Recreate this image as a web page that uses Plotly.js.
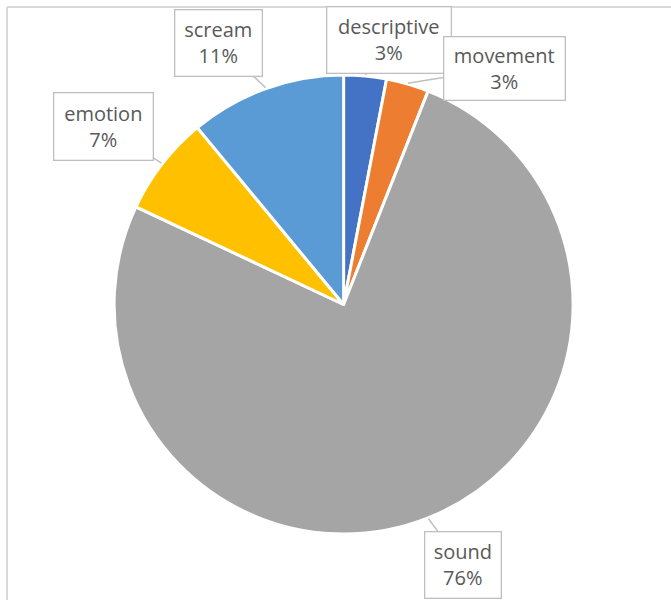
<!DOCTYPE html>
<html>
<head>
<meta charset="utf-8">
<script src="https://cdn.plot.ly/plotly-3.0.1.min.js"></script>
<style>
  html, body { margin: 0; padding: 0; background: #ffffff; }
  #chart { width: 671px; height: 600px; }
</style>
</head>
<body>
<div id="chart"></div>
<script>
// Share of each category (percent)
const categories = ['descriptive', 'movement', 'sound', 'emotion', 'scream'];
const values = [3, 3, 76, 7, 11];
const colors = ['#4472C4', '#ED7D31', '#A5A5A5', '#FFC000', '#5B9BD5'];

// Callout box centres (pixels) and box sizes for each label
const boxCenters = [[389, 40], [504, 68], [103, 126], [218, 43], [463, 565]];
const boxOrder = ['descriptive', 'movement', 'emotion', 'scream', 'sound'];
const boxSizes = { descriptive: [123, 65], movement: [120, 62], emotion: [98, 66], scream: [86, 65], sound: [75, 65] };

const W = 671, H = 600;
// pie placement in pixels
const cx = 343.6, cy = 304.5, R = 229.5;

const domainX = [(cx - R) / W, (cx + R) / W];
const domainY = [1 - (cy + R) / H, 1 - (cy - R) / H];

const total = values.reduce((a, b) => a + b, 0);

// Leader line tips: middle of each slice, at the rim (clockwise from 12 o'clock)
const annotations = [];
let cum = 0;
categories.forEach((name, i) => {
  const frac = values[i] / total;
  const mid = (cum + frac / 2) * 2 * Math.PI;
  cum += frac;
  const tipX = cx + (R + 1) * Math.sin(mid);
  const tipY = cy - (R + 1) * Math.cos(mid);
  const c = boxCenters[boxOrder.indexOf(name)];
  const size = boxSizes[name];
  annotations.push({
    xref: 'paper', yref: 'paper',
    x: tipX / W, y: 1 - tipY / H,
    ax: c[0] - tipX, ay: c[1] - tipY,
    axref: 'pixel', ayref: 'pixel',
    showarrow: true, arrowhead: 0, arrowwidth: 1.5, arrowcolor: '#BFBFBF',
    standoff: 0, startstandoff: 0,
    text: name + '<br>' + Math.round(frac * 100) + '%',
    font: { family: 'Open Sans, sans-serif', size: 20, color: '#595959' },
    bgcolor: '#FFFFFF', bordercolor: '#BFBFBF', borderwidth: 1.3, borderpad: 0,
    width: size[0], height: size[1], align: 'center', valign: 'middle'
  });
});

const trace = {
  type: 'pie',
  labels: categories,
  values: values,
  sort: false,
  direction: 'clockwise',
  rotation: 0,
  marker: { colors: colors, line: { color: '#FFFFFF', width: 3 } },
  textinfo: 'none',
  hoverinfo: 'none',
  domain: { x: domainX, y: domainY },
  showlegend: false
};

const layout = {
  width: W, height: H,
  margin: { l: 0, r: 0, t: 0, b: 0 },
  paper_bgcolor: '#FFFFFF',
  showlegend: false,
  annotations: annotations,
  shapes: [
    // chart-area frame along the top and left edges
    { type: 'line', xref: 'paper', yref: 'paper', x0: 7 / W, x1: 1.02, y0: 1 - 7 / H, y1: 1 - 7 / H,
      line: { color: '#D9D9D9', width: 2 } },
    { type: 'line', xref: 'paper', yref: 'paper', x0: 7 / W, x1: 7 / W, y0: 1 - 7 / H, y1: -0.02,
      line: { color: '#D9D9D9', width: 2 } }
  ]
};

Plotly.newPlot('chart', [trace], layout, { staticPlot: true, displayModeBar: false });
</script>
</body>
</html>
